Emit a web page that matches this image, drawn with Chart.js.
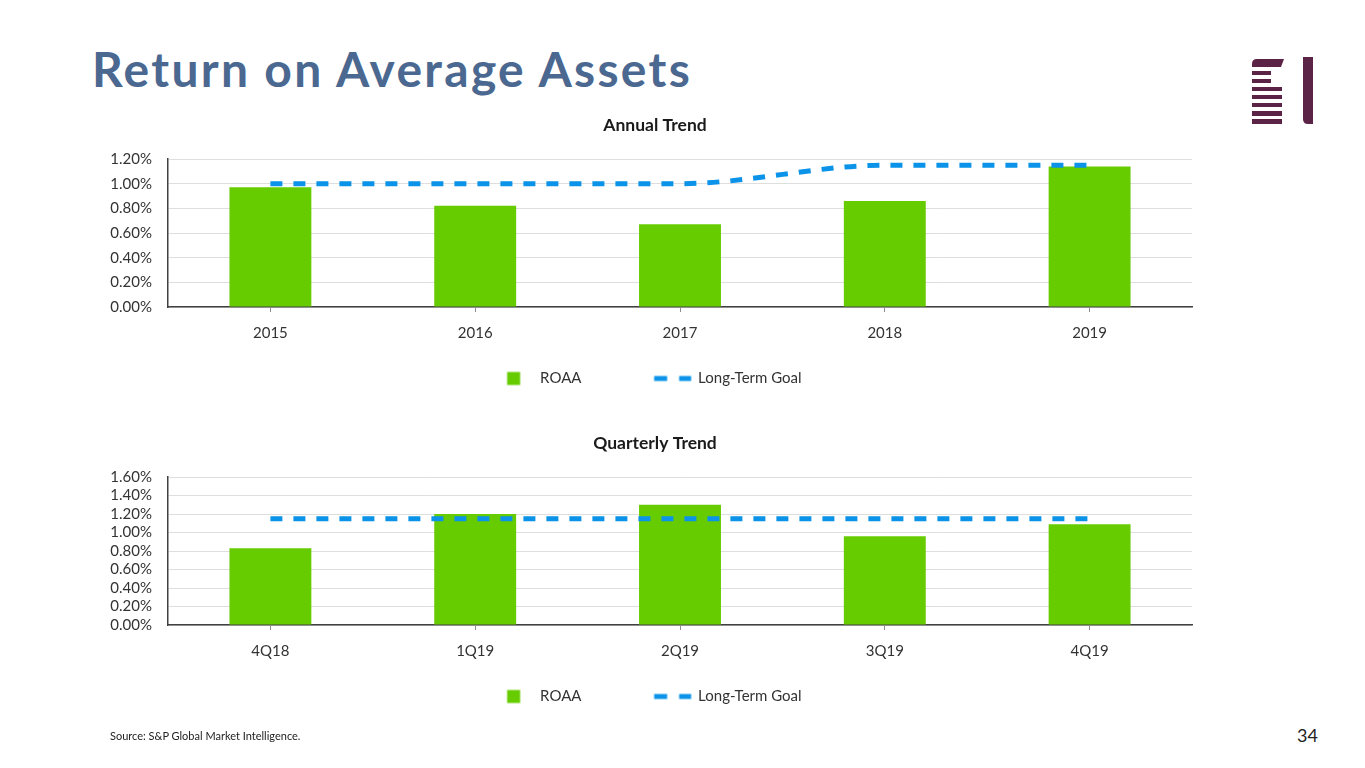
<!DOCTYPE html>
<html><head><meta charset="utf-8">
<script src="https://cdn.jsdelivr.net/npm/chart.js@4.4.1/dist/chart.umd.min.js"></script>
<style>
html,body{margin:0;padding:0;background:#fff;width:1365px;height:768px;overflow:hidden;position:relative;font-family:Lato, sans-serif;}
#title{position:absolute;left:92px;top:45px;font:bold 48px/1 Lato;letter-spacing:2.3px;color:#4b6891;white-space:nowrap}
.wrap{position:absolute;}
#src{position:absolute;left:110px;top:730px;font:11px/1 Lato;color:#222;white-space:nowrap}
#pg{position:absolute;left:1297px;top:726px;font:18px/1 Lato;color:#222}
#logo{position:absolute;left:1245px;top:52px}
</style></head><body>
<div id="title">Return on Average Assets</div>
<svg id="logo" width="80" height="80" viewBox="0 0 80 80">
  <g fill="#5b2346">
    <path d="M12,7 H39 L36,15 H7 V12 Q7,7 12,7 Z"/>
    <rect x="7" y="19" width="19" height="4"/>
    <rect x="7" y="27" width="19" height="4"/>
    <rect x="7" y="35" width="30" height="4"/>
    <rect x="7" y="43" width="30" height="4"/>
    <rect x="7" y="51" width="30" height="4"/>
    <rect x="7" y="59" width="30" height="5"/>
    <rect x="7" y="67" width="30" height="5"/>
    <path d="M58,5 H68 V72 H63 Q58,72 58,67 Z"/>
  </g>
</svg>
<div class="wrap" id="w1"><canvas id="c1"></canvas></div>
<div class="wrap" id="w2"><canvas id="c2"></canvas></div>
<div id="src">Source: S&amp;P Global Market Intelligence.</div>
<div id="pg">34</div>
<script>
// ---- data ----
const annualCategories = ['2015', '2016', '2017', '2018', '2019'];
const annualROAA = [0.97, 0.82, 0.67, 0.86, 1.14];
const annualGoal = [1.00, 1.00, 1.00, 1.15, 1.15];
const annualTickValues = [0, 0.2, 0.4, 0.6, 0.8, 1.0, 1.2];

const quarterlyCategories = ['4Q18', '1Q19', '2Q19', '3Q19', '4Q19'];
const quarterlyROAA = [0.83, 1.20, 1.30, 0.96, 1.09];
const quarterlyGoal = [1.15, 1.15, 1.15, 1.15, 1.15];
const quarterlyTickValues = [0, 0.2, 0.4, 0.6, 0.8, 1.0, 1.2, 1.4, 1.6];

const seriesNames = ['ROAA', 'Long-Term Goal'];
const chartTitles = ['Annual Trend', 'Quarterly Trend'];

// ---- style / layout ----
const GREEN = '#66cc00';
const BLUE = '#0a93e8';
const FONT = 'Lato';
const FS = 15, HALF = FS / 2;
const TEXT_R = 540, TEXT_G = 698, TITLE_C = 655;
const PLOT_L = 168, PLOT_R = 1192, CANVAS_X = 100;
const TITLE_BLOCK = 51, PLOT_H = 148, XAXIS_H = 35, LEGEND_CY = 378.5;

const mctx = document.createElement('canvas').getContext('2d');
mctx.font = `normal ${FS}px ${FONT}`;
const wR = mctx.measureText(seriesNames[0]).width;
const wG = mctx.measureText(seriesNames[1]).width;
const LBOX = CANVAS_X;
const RBOX = 2 * TITLE_C - LBOX;              // full-width boxes (title, legend) span LBOX..RBOX
const PAD = Math.max(8, Math.round(LBOX + RBOX - 2 * TEXT_R - wR - wG));
const B = Math.max(10, TEXT_G - TEXT_R - wR - HALF - PAD);
const CW = RBOX - CANVAS_X;
const CH = TITLE_BLOCK + PLOT_H + XAXIS_H + (FS + PAD + 10);

function makeMarker(boxStart, rects) {
  const c = B / 2;
  let ext = c;
  rects.forEach(r => {
    ext = Math.max(ext, Math.abs(r[0] - boxStart - c), Math.abs(r[0] + r[2] - boxStart - c));
  });
  const W = Math.ceil(ext) * 2 + 2, H = 16;
  const cv = document.createElement('canvas');
  cv.width = W; cv.height = H;
  const g = cv.getContext('2d');
  const ox = W / 2 - c;
  rects.forEach(r => { g.fillStyle = r[4]; g.fillRect(r[0] - boxStart + ox, r[1], r[2], r[3]); });
  return cv;
}
const markerR = makeMarker(TEXT_R - HALF - B, [[507, 1.5, 13, 13, GREEN]]);
const markerG = makeMarker(TEXT_G - HALF - B, [[654, 5.5, 13, 5, BLUE], [679, 5.5, 12, 5, BLUE]]);
const markers = [markerR, markerG];

// moves the legend row up to its place under the axis labels
const legendPlace = {
  id: 'legendPlace',
  afterLayout(chart) {
    const lg = chart.legend;
    if (!lg) return;
    const top = chart.chartArea.bottom + (LEGEND_CY - 307) - HALF - PAD;
    const h = lg.bottom - lg.top;
    lg.top = top; lg.bottom = top + h;
  }
};

function makeChart(id, wrapId, top, cats, roaa, goal, tickVals, title) {
  const wrap = document.getElementById(wrapId);
  wrap.style.left = CANVAS_X + 'px';
  wrap.style.top = top + 'px';
  const cv = document.getElementById(id);
  cv.width = CW; cv.height = CH;
  cv.style.width = CW + 'px'; cv.style.height = CH + 'px';
  const tickFont = {family: FONT, size: FS};
  new Chart(cv, {
    type: 'bar',
    data: {
      labels: cats,
      datasets: [
        {type: 'bar', label: seriesNames[0], data: roaa, backgroundColor: GREEN, borderWidth: 0,
         barPercentage: 0.4, categoryPercentage: 1.0, order: 1},
        {type: 'line', label: seriesNames[1], data: goal, borderColor: BLUE, borderWidth: 5,
         borderDash: [12, 11], pointRadius: 0, fill: false, cubicInterpolationMode: 'monotone', order: 0}
      ]
    },
    plugins: [legendPlace],
    options: {
      responsive: false, animation: false, events: [],
      layout: {padding: {left: 0, right: 0, top: 0, bottom: 0}},
      plugins: {
        title: {display: true, text: title, color: '#1a1a1a',
                font: {family: FONT, size: 17.5, weight: 'bold'}, lineHeight: 1.2,
                padding: {top: 6.5, bottom: TITLE_BLOCK - 6.5 - 21}},
        tooltip: {enabled: false},
        legend: {
          display: true, position: 'bottom',
          labels: {
            usePointStyle: true, pointStyleWidth: B, padding: PAD, color: '#333',
            font: {family: FONT, size: FS},
            generateLabels: (chart) => chart.data.datasets.map((ds, i) => ({
              text: ds.label, pointStyle: markers[i], datasetIndex: i, hidden: false,
              fillStyle: 'rgba(0,0,0,0)', strokeStyle: 'rgba(0,0,0,0)', lineWidth: 0, fontColor: '#333'
            }))
          }
        }
      },
      scales: {
        x: {
          offset: true,
          grid: {display: true, drawOnChartArea: false, drawTicks: true, tickLength: 5, color: '#8c8c8c', offset: false},
          border: {display: true, color: '#404040', width: 1.5},
          ticks: {display: true, font: tickFont, color: '#333', padding: 12, maxRotation: 0, autoSkip: false},
          afterFit: s => { s.height = XAXIS_H; }
        },
        y: {
          min: tickVals[0], max: tickVals[tickVals.length - 1],
          afterBuildTicks: s => { s.ticks = tickVals.map(v => ({value: v})); },
          ticks: {font: tickFont, color: '#333', padding: 16, autoSkip: false,
                  callback: v => Number(v).toFixed(2) + '%'},
          grid: {color: '#dedede', drawTicks: false, lineWidth: 1},
          border: {display: true, color: '#404040', width: 1.5},
          afterFit: s => { s.width = PLOT_L - CANVAS_X; }
        },
        // empty right-hand spacer: keeps the plot right edge while title/legend stay centred
        spacer: {
          type: 'linear', position: 'right', display: true,
          grid: {display: false, drawTicks: false}, border: {display: false}, ticks: {display: false},
          afterFit: s => { s.width = RBOX - PLOT_R; }
        }
      }
    }
  });
}

makeChart('c1', 'w1', 108, annualCategories, annualROAA, annualGoal, annualTickValues, chartTitles[0]);
makeChart('c2', 'w2', 426, quarterlyCategories, quarterlyROAA, quarterlyGoal, quarterlyTickValues, chartTitles[1]);
</script>
</body></html>
